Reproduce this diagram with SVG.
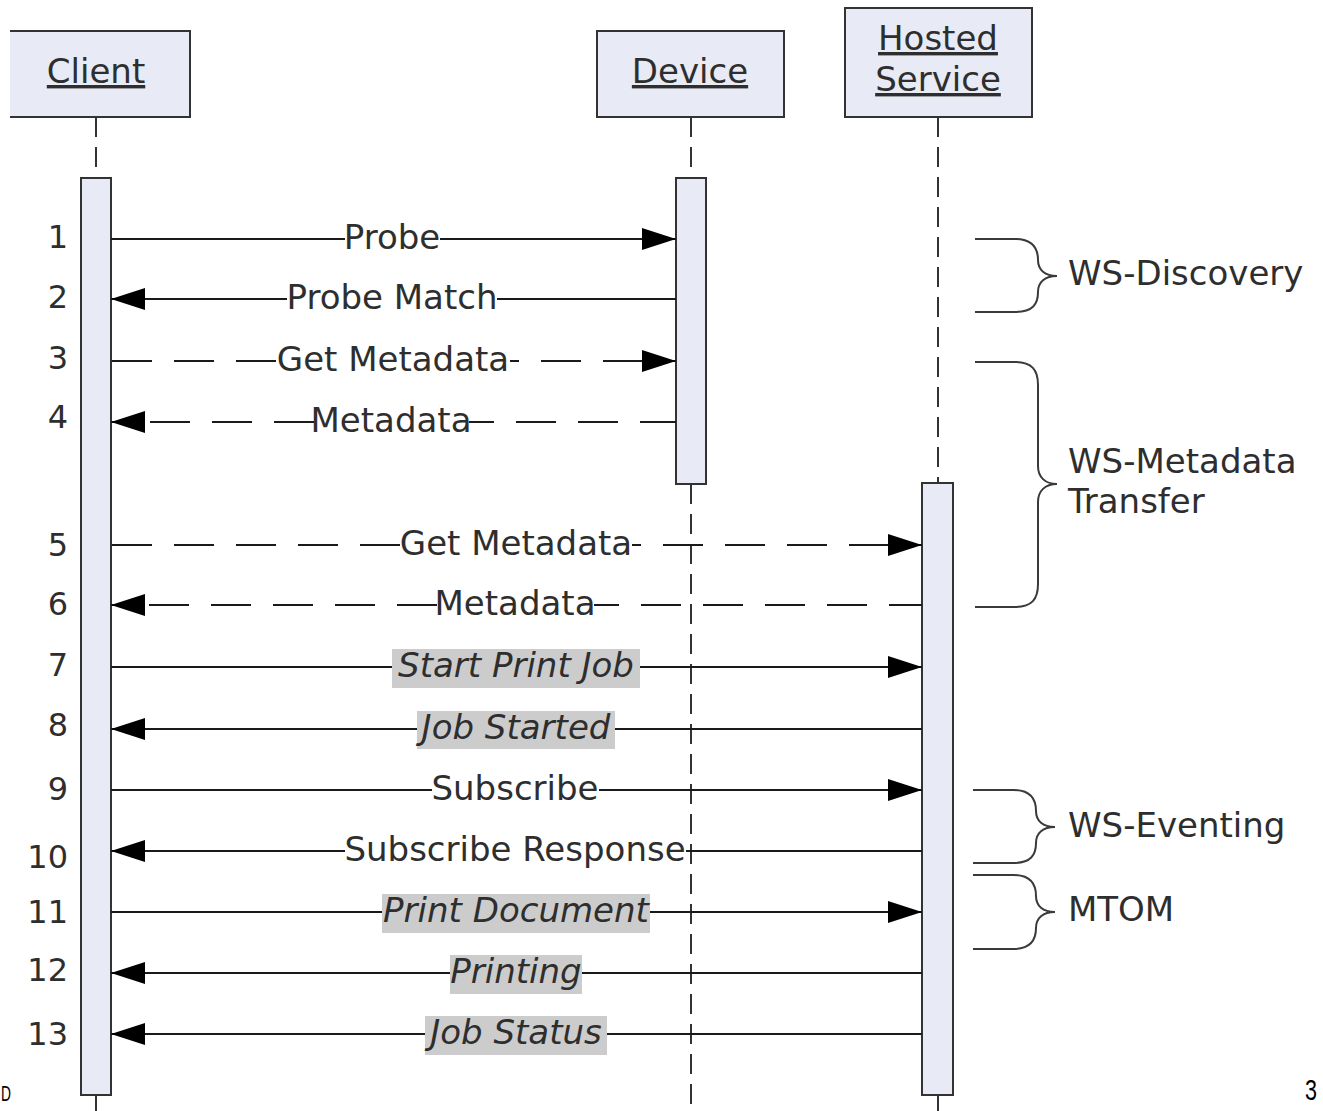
<svg xmlns="http://www.w3.org/2000/svg" width="1323" height="1111" viewBox="0 0 1323 1111">
  <style>
    .box { fill: #e8ebf5; stroke: #333; stroke-width: 2; }
    .act { fill: #e8ebf5; stroke: #333; stroke-width: 2; }
    .life { fill: none; stroke: #333; stroke-width: 2; stroke-dasharray: 20 10; }
    .msg { fill: none; stroke: #1a1a1a; stroke-width: 2; }
    .dash { stroke-dasharray: 40 22; }
    .brace { fill: none; stroke: #3a3a3a; stroke-width: 2; }
    .t { font-family: "DejaVu Sans", Verdana, sans-serif; font-size: 34px; fill: #2e2e2e; }
    .c { text-anchor: middle; }
    .it { font-style: italic; }
    .hd { text-decoration: underline; }
    .num { font-size: 32px; text-anchor: end; }
    .hl { fill: #cccccc; }
    .edge { font-family: "Liberation Sans", Arial, sans-serif; fill: #000; }
  </style>
  <defs>
    <marker id="arrow" markerUnits="userSpaceOnUse" markerWidth="36" markerHeight="24" refX="34" refY="11" orient="auto">
      <path d="M0,0 L34,11 L0,22 Z" fill="#000" stroke="none"/>
    </marker>
  </defs>

  <rect width="1323" height="1111" fill="#fff"/>

  <!-- lifelines -->
  <g id="lifelines">
    <path class="life" d="M96,117 V178"/>
    <path class="life" d="M96,1095 V1111"/>
    <path class="life" d="M691,117 V178"/>
    <path class="life" d="M691,484 V1111"/>
    <path class="life" d="M938,117 V483"/>
    <path class="life" d="M938,1095 V1111"/>
  </g>

  <!-- participants -->
  <g id="client">
    <rect x="10" y="31" width="180" height="86" fill="#e8ebf5"/>
    <path d="M10,31 H190 V117 H10" fill="none" stroke="#333" stroke-width="2"/>
    <text class="t c hd" x="96" y="83">Client</text>
    <rect class="act" x="81" y="178" width="30" height="917"/>
  </g>
  <g id="device">
    <rect class="box" x="597" y="31" width="187" height="86"/>
    <text class="t c hd" x="690" y="83">Device</text>
    <rect class="act" x="676" y="178" width="30" height="306"/>
  </g>
  <g id="hosted-service">
    <rect class="box" x="845" y="8" width="187" height="109"/>
    <text class="t c hd" x="938" y="50">Hosted</text>
    <text class="t c hd" x="938" y="91">Service</text>
    <rect class="act" x="922" y="483" width="31" height="612"/>
  </g>

  <!-- messages -->
  <g id="connectors">
    <!-- 1 Probe -->
    <path class="msg" d="M111,239 H345"/>
    <path class="msg" d="M440,239 H676" marker-end="url(#arrow)"/>
    <!-- 2 Probe Match -->
    <path class="msg" d="M676,299 H497"/>
    <path class="msg" d="M287,299 H111" marker-end="url(#arrow)"/>
    <!-- 3 Get Metadata -->
    <path class="msg dash" d="M276,361 H111"/>
    <path class="msg dash" stroke-dashoffset="31" d="M510,361 H676" marker-end="url(#arrow)"/>
    <!-- 4 Metadata -->
    <path class="msg dash" stroke-dashoffset="15" d="M469,422 H676"/>
    <path class="msg dash" d="M314,422 H111" marker-end="url(#arrow)"/>
    <!-- 5 Get Metadata -->
    <path class="msg dash" d="M400,545 H111"/>
    <path class="msg dash" stroke-dashoffset="31" d="M632,545 H922" marker-end="url(#arrow)"/>
    <!-- 6 Metadata -->
    <path class="msg dash" stroke-dashoffset="15" d="M594,605 H922"/>
    <path class="msg dash" d="M437,605 H111" marker-end="url(#arrow)"/>
    <!-- 7 Start Print Job -->
    <path class="msg" d="M111,667 H392"/>
    <path class="msg" d="M640,667 H922" marker-end="url(#arrow)"/>
    <!-- 8 Job Started -->
    <path class="msg" d="M922,729 H615"/>
    <path class="msg" d="M417,729 H111" marker-end="url(#arrow)"/>
    <!-- 9 Subscribe -->
    <path class="msg" d="M111,790 H432"/>
    <path class="msg" d="M599,790 H922" marker-end="url(#arrow)"/>
    <!-- 10 Subscribe Response -->
    <path class="msg" d="M922,851 H686"/>
    <path class="msg" d="M345,851 H111" marker-end="url(#arrow)"/>
    <!-- 11 Print Document -->
    <path class="msg" d="M111,912 H382"/>
    <path class="msg" d="M650,912 H922" marker-end="url(#arrow)"/>
    <!-- 12 Printing -->
    <path class="msg" d="M922,973 H582"/>
    <path class="msg" d="M450,973 H111" marker-end="url(#arrow)"/>
    <!-- 13 Job Status -->
    <path class="msg" d="M922,1034 H607"/>
    <path class="msg" d="M425,1034 H111" marker-end="url(#arrow)"/>
  </g>

  <!-- message labels -->
  <g id="labels">
    <text class="t c" x="392" y="249">Probe</text>
    <text class="t c" x="392" y="309">Probe Match</text>
    <text class="t c" x="393" y="371">Get Metadata</text>
    <text class="t c" x="391" y="432">Metadata</text>
    <text class="t c" x="516" y="555">Get Metadata</text>
    <text class="t c" x="515" y="615">Metadata</text>
    <rect class="hl" x="392" y="649" width="248" height="39"/>
    <text class="t c it" x="516" y="677">Start Print Job</text>
    <rect class="hl" x="417" y="711" width="198" height="38"/>
    <text class="t c it" x="516" y="739">Job Started</text>
    <text class="t c" x="515" y="800">Subscribe</text>
    <text class="t c" x="515" y="861">Subscribe Response</text>
    <rect class="hl" x="382" y="894" width="268" height="39"/>
    <text class="t c it" x="516" y="922">Print Document</text>
    <rect class="hl" x="450" y="955" width="132" height="39"/>
    <text class="t c it" x="516" y="983">Printing</text>
    <rect class="hl" x="425" y="1016" width="182" height="39"/>
    <text class="t c it" x="516" y="1044">Job Status</text>
  </g>

  <!-- step numbers -->
  <g id="steps">
    <text class="t num" x="68" y="248">1</text>
    <text class="t num" x="68" y="308">2</text>
    <text class="t num" x="68" y="369">3</text>
    <text class="t num" x="68" y="428">4</text>
    <text class="t num" x="68" y="556">5</text>
    <text class="t num" x="68" y="615">6</text>
    <text class="t num" x="68" y="676">7</text>
    <text class="t num" x="68" y="736">8</text>
    <text class="t num" x="68" y="800">9</text>
    <text class="t num" x="68" y="868">10</text>
    <text class="t num" x="68" y="923">11</text>
    <text class="t num" x="68" y="981">12</text>
    <text class="t num" x="68" y="1045">13</text>
  </g>

  <!-- protocol braces -->
  <g id="ws-discovery">
    <path class="brace" d="M975,239 H1015 C1033,239 1038,248 1038,260 C1038,270 1045,276 1057,276 C1045,276 1038,282 1038,292 C1038,304 1033,312 1015,312 H975"/>
    <text class="t" x="1068" y="285">WS-Discovery</text>
  </g>
  <g id="ws-metadata-transfer">
    <path class="brace" d="M975,362 H1015 C1032,362 1038,370 1038,385 V466 C1038,477 1045,484 1057,484 C1045,484 1038,491 1038,502 V584 C1038,599 1032,607 1015,607 H975"/>
    <text class="t" x="1068" y="473">WS-Metadata</text>
    <text class="t" x="1068" y="513">Transfer</text>
  </g>
  <g id="ws-eventing">
    <path class="brace" d="M973,790 H1013 C1031,790 1036,799 1036,811 C1036,821 1043,827 1055,827 C1043,827 1036,833 1036,843 C1036,855 1031,863 1013,863 H973"/>
    <text class="t" x="1068" y="837">WS-Eventing</text>
  </g>
  <g id="mtom">
    <path class="brace" d="M973,875 H1013 C1031,875 1036,884 1036,896 C1036,906 1043,912 1055,912 C1043,912 1036,918 1036,928 C1036,940 1031,949 1013,949 H973"/>
    <text class="t" x="1068" y="921">MTOM</text>
  </g>

  <!-- small page marks near the bottom corners -->
  <text class="edge" x="1" y="1101" font-size="22" textLength="10" lengthAdjust="spacingAndGlyphs">D</text>
  <text class="edge" x="1305" y="1100" font-size="30" textLength="12" lengthAdjust="spacingAndGlyphs">3</text>
</svg>
